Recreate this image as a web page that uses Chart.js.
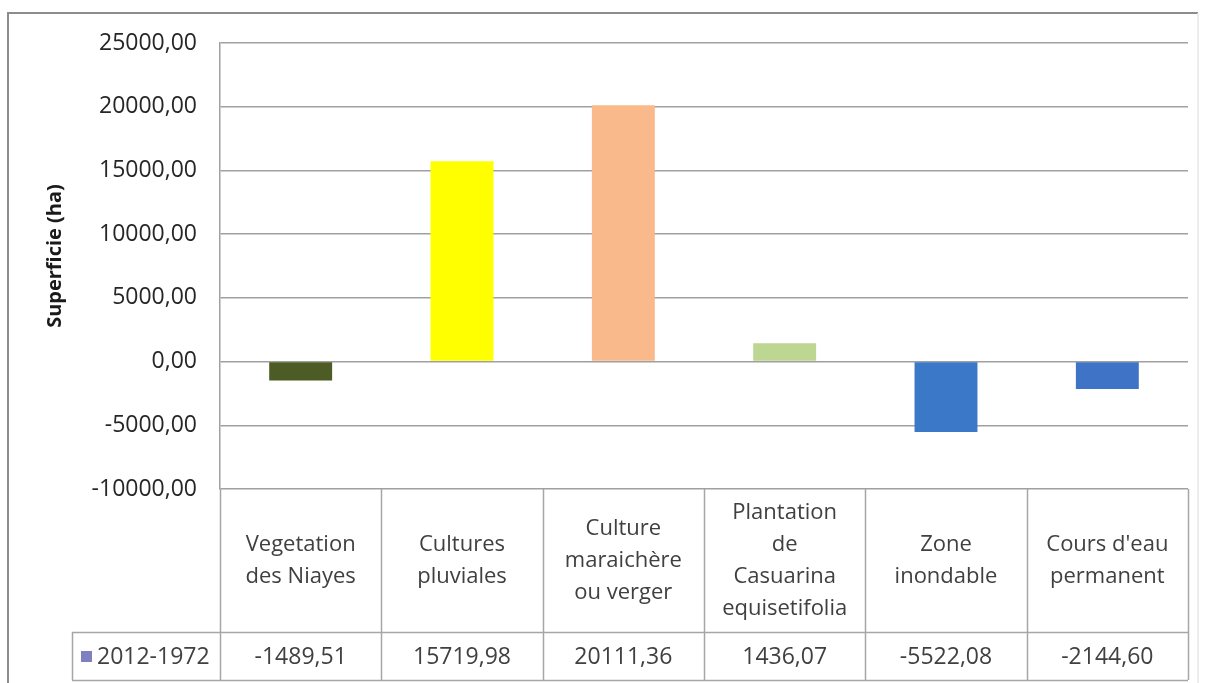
<!DOCTYPE html>
<html lang="fr">
<head>
<meta charset="utf-8">
<title>Superficie (ha) 2012-1972</title>
<script src="https://cdn.jsdelivr.net/npm/chart.js@4/dist/chart.umd.min.js"></script>
<style>
  html, body { margin: 0; padding: 0; background: #ffffff; }
  #wrap { width: 1212px; height: 683px; position: relative; }
  canvas { display: block; }
</style>
</head>
<body>
<div id="wrap"><canvas id="chart" width="1212" height="683"></canvas></div>
<script>
// Land-cover classes (one table column per class, lines split as displayed)
const categories = [
  ["Vegetation", "des Niayes"],
  ["Cultures", "pluviales"],
  ["Culture", "maraichère", "ou verger"],
  ["Plantation", "de", "Casuarina", "equisetifolia"],
  ["Zone", "inondable"],
  ["Cours d'eau", "permanent"]
];

// Change in area between 1972 and 2012 (ha)
const seriesName = "2012-1972";
const seriesValues = [-1489.51, 15719.98, 20111.36, 1436.07, -5522.08, -2144.60];

const barColors = ["#4C5C24", "#FFFF00", "#FAB98A", "#BDD691", "#3C78C8", "#3E73C6"];

// Value axis ticks
const yTicks = [-10000, -5000, 0, 5000, 10000, 15000, 20000, 25000];

const FONT = "'Open Sans', 'Liberation Sans', sans-serif";
const fmt = v => v.toFixed(2).replace('.', ',');

// Frame around the whole chart, y-axis title, and the data table under the plot
const tablePlugin = {
  id: 'dataTable',
  beforeDraw(chart) {
    const ctx = chart.ctx;
    ctx.save();
    ctx.fillStyle = '#ffffff';
    ctx.fillRect(0, 0, chart.width, chart.height);
    ctx.strokeStyle = '#8c8c8c';
    ctx.lineWidth = 2;
    ctx.beginPath();
    ctx.moveTo(8, chart.height);
    ctx.lineTo(8, 13);
    ctx.lineTo(1198, 13);
    ctx.stroke();
    ctx.strokeStyle = '#e6e6e6';
    ctx.lineWidth = 1.5;
    ctx.beginPath();
    ctx.moveTo(1198, 13);
    ctx.lineTo(1198, chart.height);
    ctx.stroke();
    ctx.restore();
  },
  afterDraw(chart) {
    const ctx = chart.ctx;
    const area = chart.chartArea;
    const n = categories.length;
    const colW = (area.right - area.left) / n;
    const top = area.bottom;
    const valTop = 632;
    const bottom = 680;
    const legendLeft = 72;

    ctx.save();
    // y-axis title
    ctx.translate(55, 256);
    ctx.rotate(-Math.PI / 2);
    ctx.font = "bold 20px " + FONT;
    ctx.fillStyle = '#1a1a1a';
    ctx.textAlign = 'center';
    ctx.textBaseline = 'middle';
    ctx.fillText('Superficie (ha)', 0, 0);
    ctx.restore();

    ctx.save();
    ctx.strokeStyle = '#a6a6a6';
    ctx.lineWidth = 1.5;
    ctx.beginPath();
    // column separators
    for (let i = 0; i <= n; i++) {
      const x = Math.round(area.left + i * colW) + 0.5;
      ctx.moveTo(x, top);
      ctx.lineTo(x, bottom);
    }
    // row lines
    ctx.moveTo(legendLeft, valTop + 0.5);
    ctx.lineTo(area.right, valTop + 0.5);
    ctx.moveTo(legendLeft, bottom + 0.5);
    ctx.lineTo(area.right, bottom + 0.5);
    ctx.moveTo(legendLeft + 0.5, valTop);
    ctx.lineTo(legendLeft + 0.5, bottom);
    ctx.stroke();

    ctx.font = "22px " + FONT;
    ctx.fillStyle = '#404040';
    ctx.textAlign = 'center';
    ctx.textBaseline = 'middle';
    const lineH = 32;
    const catMid = (top + valTop) / 2;
    const xs = chart.scales.x;
    categories.forEach((lines, i) => {
      const cx = xs.getPixelForValue(i);
      const y0 = catMid - (lines.length - 1) * lineH / 2;
      lines.forEach((t, k) => ctx.fillText(t, cx, y0 + k * lineH));
    });
    ctx.font = "23px " + FONT;
    categories.forEach((lines, i) => {
      ctx.fillText(fmt(seriesValues[i]), xs.getPixelForValue(i), (valTop + bottom) / 2 + 1);
    });

    // legend key cell
    ctx.fillStyle = '#8080C0';
    ctx.fillRect(81, 651, 11, 11);
    ctx.fillStyle = '#404040';
    ctx.textAlign = 'left';
    ctx.fillText(seriesName, 97, (valTop + bottom) / 2 + 1);
    ctx.restore();
  }
};

new Chart(document.getElementById('chart'), {
  type: 'bar',
  data: {
    labels: categories.map(l => l.join(' ')),
    datasets: [{
      label: seriesName,
      data: seriesValues,
      backgroundColor: barColors,
      borderColor: barColors,
      borderWidth: 0,
      barPercentage: 0.39,
      categoryPercentage: 1.0
    }]
  },
  options: {
    responsive: false,
    animation: false,
    events: [],
    layout: { padding: { left: 0, right: 24, top: 43, bottom: 194 } },
    plugins: {
      legend: { display: false },
      tooltip: { enabled: false },
      title: { display: false }
    },
    scales: {
      x: {
        display: false,
        offset: true,
        grid: { display: false }
      },
      y: {
        min: yTicks[0],
        max: yTicks[yTicks.length - 1],
        afterFit(scale) { scale.width = 220; },
        afterBuildTicks(scale) { scale.ticks = yTicks.map(v => ({ value: v })); },
        ticks: {
          padding: 23,
          color: '#262626',
          font: { family: FONT, size: 23 },
          callback: v => fmt(v)
        },
        grid: {
          color: '#a0a0a0',
          lineWidth: 1.5,
          drawTicks: false
        },
        border: { display: true, color: '#a0a0a0', width: 1.5 }
      }
    }
  },
  plugins: [tablePlugin]
});
</script>
</body>
</html>
